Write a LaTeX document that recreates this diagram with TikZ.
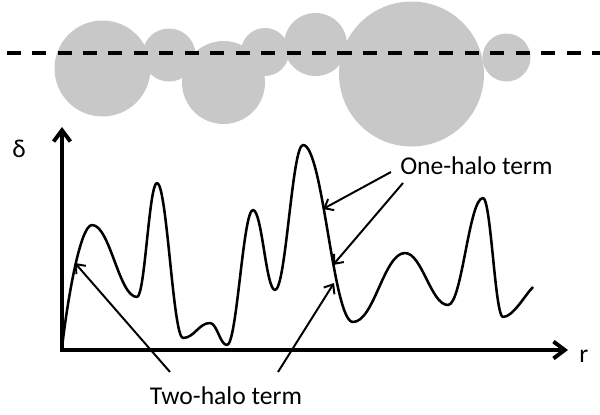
\documentclass[tikz,border=0pt]{standalone}
\usepackage{fontspec}
\setmainfont{Carlito}
\usepackage{tikz}
\usetikzlibrary{arrows.meta}
\definecolor{HaloGray}{HTML}{C8C8C8}

\begin{document}
\begin{tikzpicture}[x=0.025cm,y=-0.025cm]
\tikzstyle{halo}=[fill=HaloGray]
\tikzstyle{sightline}=[line width=2.8pt,dash pattern=on 10pt off 8.1pt,dash phase=13.4pt]
\tikzstyle{axis}=[line width=2.8pt,line join=miter,
                  {Straight Barb[length=8pt,width=12pt]}-{Straight Barb[length=8pt,width=12pt]}]
\tikzstyle{wave}=[line width=1.8pt,line join=round]
\tikzstyle{ann}=[line width=1.4pt,-{Straight Barb[length=5.5pt,width=9pt]}]
\tikzstyle{lbl}=[inner sep=0pt,font=\fontsize{18.2}{20}\selectfont]
\useasboundingbox (0,0) rectangle (600,415);
% halos cut by the line of sight
\fill[halo] (102.5,68.5) circle[radius=48];
\fill[halo] (169,55) circle[radius=26.5];
\fill[halo] (223.5,82.5) circle[radius=41.5];
\fill[halo] (265,52) circle[radius=24];
\fill[halo] (315.5,44.5) circle[radius=31.5];
\fill[halo] (411.5,74) circle[radius=72.5];
\fill[halo] (506.5,57.5) circle[radius=24];
\draw[sightline] (0,53) -- (600,53);
% axes
\coordinate (origin) at (62,350);
\coordinate (dtop) at (62,127);
\coordinate (rend) at (568,350);
\draw[axis] (dtop) -- (origin) -- (rend);
\node[lbl,anchor=base west] (delta) at (12,157) {δ};
\node[lbl,anchor=base west] (rlab) at (579,362) {r};
% density profile
\draw[wave] (62,348) .. controls +(5,-45) and +(-12,0) .. (92,225)
  .. controls +(18,0) and +(-18,0) .. (137,297)
  .. controls +(8,0) and +(-8,0) .. (157,183)
  .. controls +(10,0) and +(-10,0) .. (183,338)
  .. controls +(11,0) and +(-11,0) .. (210,323)
  .. controls +(7,0) and +(-7,0) .. (227,345)
  .. controls +(10,0) and +(-10,0) .. (253,210)
  .. controls +(9,0) and +(-9,0) .. (275,290)
  .. controls +(11,0) and +(-11,0) .. (303,145)
  .. controls +(20,0) and +(-20,0) .. (353,322)
  .. controls +(21,0) and +(-21,0) .. (405,253)
  .. controls +(17,0) and +(-17,0) .. (448,305)
  .. controls +(14,0) and +(-14,0) .. (483,198)
  .. controls +(8,0) and +(-8,0) .. (503,317)
  .. controls +(10,0) and +(-8,8) .. (533,287);
% labels and pointers
\node[lbl,anchor=base west] (onehalo) at (400,174) {One-halo term};
\node[lbl,anchor=base] (twohalo) at (226,404) {Two-halo term};
\coordinate (oh1) at (323,209);
\coordinate (oh2) at (333,265);
\coordinate (th1) at (75,263);
\coordinate (th2) at (334,283);
\draw[ann] ([shift={(-9,-2)}]onehalo.base west) -- (oh1);
\draw[ann] ([shift={(3,9)}]onehalo.base west) -- (oh2);
\draw[ann] ([shift={(-56,-32)}]twohalo.base) -- (th1);
\draw[ann] ([shift={(52,-32)}]twohalo.base) -- (th2);
\end{tikzpicture}
\end{document}
